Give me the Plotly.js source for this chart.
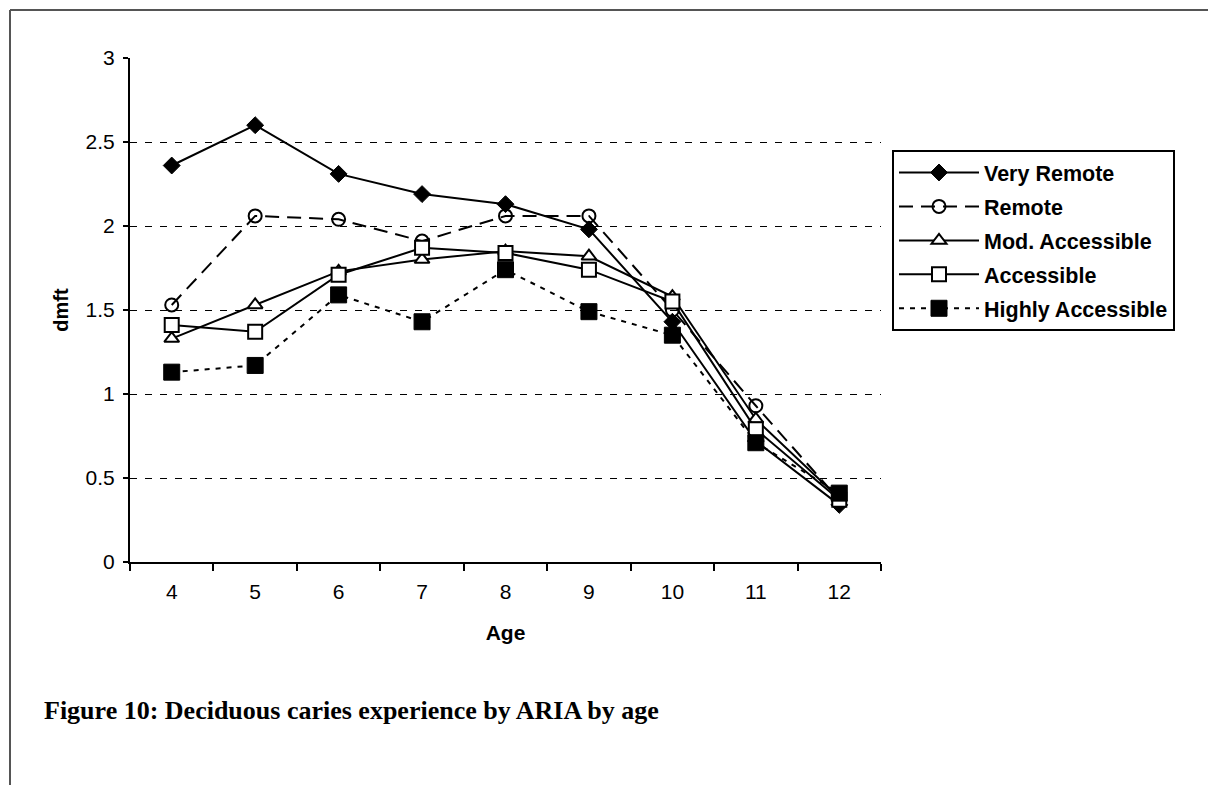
<!DOCTYPE html>
<html>
<head>
<meta charset="utf-8">
<script src="https://cdn.plot.ly/plotly-3.0.1.min.js"></script>
<style>
  html, body { margin: 0; padding: 0; background: #ffffff; }
  #chart { width: 1208px; height: 785px; }
</style>
</head>
<body>
<div id="chart"></div>
<script>
// ---- data ----
const ages = ['4', '5', '6', '7', '8', '9', '10', '11', '12'];
const veryRemote       = [2.36, 2.60, 2.31, 2.19, 2.13, 1.98, 1.43, 0.72, 0.34];
const remote           = [1.53, 2.06, 2.04, 1.91, 2.06, 2.06, 1.50, 0.93, 0.37];
const modAccessible    = [1.33, 1.53, 1.73, 1.80, 1.85, 1.82, 1.58, 0.85, 0.38];
const accessible       = [1.41, 1.37, 1.71, 1.87, 1.84, 1.74, 1.55, 0.79, 0.37];
const highlyAccessible = [1.13, 1.17, 1.59, 1.43, 1.74, 1.49, 1.35, 0.71, 0.41];
const seriesNames = ['Very Remote', 'Remote', 'Mod. Accessible', 'Accessible', 'Highly Accessible'];
const yTickVals = [0, 0.5, 1, 1.5, 2, 2.5, 3];
const yTickText = ['0', '0.5', '1', '1.5', '2', '2.5', '3'];
const xTitle = 'Age';
const yTitle = 'dmft';
const caption = 'Figure 10: Deciduous caries experience by ARIA by age';

const traces = [
  {
    x: ages, y: veryRemote, name: seriesNames[0], legendgroup: 'g1', type: 'scatter', mode: 'lines+markers',
    line: { color: '#000000', width: 2 },
    marker: { symbol: 'diamond', size: 13, color: '#000000', line: { color: '#000000', width: 1 } }
  },
  {
    x: ages, y: remote, name: seriesNames[1], legendgroup: 'g2', type: 'scatter', mode: 'lines+markers',
    line: { color: '#000000', width: 2, dash: '14px,8px' },
    marker: { symbol: 'circle-open', size: 13, color: '#000000', line: { color: '#000000', width: 2 } }
  },
  {
    x: ages, y: modAccessible, name: seriesNames[2], legendgroup: 'g3', type: 'scatter', mode: 'lines+markers',
    line: { color: '#000000', width: 2 },
    marker: { symbol: 'triangle-up', size: 13, color: '#ffffff', line: { color: '#000000', width: 2 } }
  },
  {
    x: ages, y: accessible, name: seriesNames[3], legendgroup: 'g4', type: 'scatter', mode: 'lines+markers',
    line: { color: '#000000', width: 2 },
    marker: { symbol: 'square', size: 14, color: '#ffffff', line: { color: '#000000', width: 2 } }
  },
  {
    x: ages, y: highlyAccessible, name: seriesNames[4], legendgroup: 'g5', type: 'scatter', mode: 'lines+markers',
    line: { color: '#000000', width: 2, dash: '5px,6px' },
    marker: { symbol: 'square', size: 16, color: '#000000', line: { color: '#000000', width: 1 } }
  }
];

const L = 130, R = 327, T = 58, B = 223, W = 1208, H = 785;
const pw = W - L - R, ph = H - T - B;
const px = v => (v - L) / pw;
const py = v => (H - B - v) / ph;

const layout = {
  width: W, height: H,
  margin: { l: L, r: R, t: T, b: B, pad: 0 },
  paper_bgcolor: '#ffffff',
  plot_bgcolor: '#ffffff',
  font: { family: 'Arial, "Liberation Sans", sans-serif', color: '#000000', size: 21 },
  showlegend: true,
  xaxis: {
    type: 'category',
    range: [-0.5, 8.5],
    tickson: 'boundaries',
    ticks: 'outside', ticklen: 7, tickwidth: 2, tickcolor: '#000000',
    ticklabelstandoff: 10,
    showline: true, linecolor: '#000000', linewidth: 2,
    showgrid: false, zeroline: false,
    tickfont: { size: 21 },
    title: { text: xTitle, font: { size: 21, weight: 'bold' }, standoff: 23 },
    fixedrange: true
  },
  yaxis: {
    range: [0, 3],
    tickvals: yTickVals, ticktext: yTickText,
    ticks: 'outside', ticklen: 5, tickwidth: 2, tickcolor: '#000000',
    ticklabelstandoff: 4,
    showline: true, linecolor: '#000000', linewidth: 2,
    showgrid: true, gridcolor: '#000000', gridwidth: 1, griddash: '7px,8px',
    zeroline: false,
    tickfont: { size: 21 },
    title: { text: yTitle, font: { size: 20, weight: 'bold' }, standoff: 12 },
    fixedrange: true
  },
  legend: {
    x: px(892), y: py(150), xanchor: 'left', yanchor: 'top',
    bgcolor: '#ffffff', bordercolor: '#000000', borderwidth: 2,
    font: { size: 21.5, weight: 'bold', color: '#000000' },
    itemwidth: 80,
    traceorder: 'grouped',
    tracegroupgap: 3
  },
  shapes: [
    { type: 'line', xref: 'paper', yref: 'paper', x0: px(10), x1: px(1208), y0: py(10), y1: py(10),
      line: { color: '#555555', width: 2 } },
    { type: 'line', xref: 'paper', yref: 'paper', x0: px(10), x1: px(10), y0: py(10), y1: py(785),
      line: { color: '#555555', width: 2 } }
  ],
  annotations: [
    { text: caption, xref: 'paper', yref: 'paper', x: px(42), y: py(710),
      xanchor: 'left', yanchor: 'middle', showarrow: false,
      font: { family: '"Liberation Serif", "Times New Roman", serif', size: 26, weight: 'bold', color: '#000000' } }
  ]
};

Plotly.newPlot('chart', traces, layout, { displayModeBar: false, staticPlot: true });
</script>
</body>
</html>
